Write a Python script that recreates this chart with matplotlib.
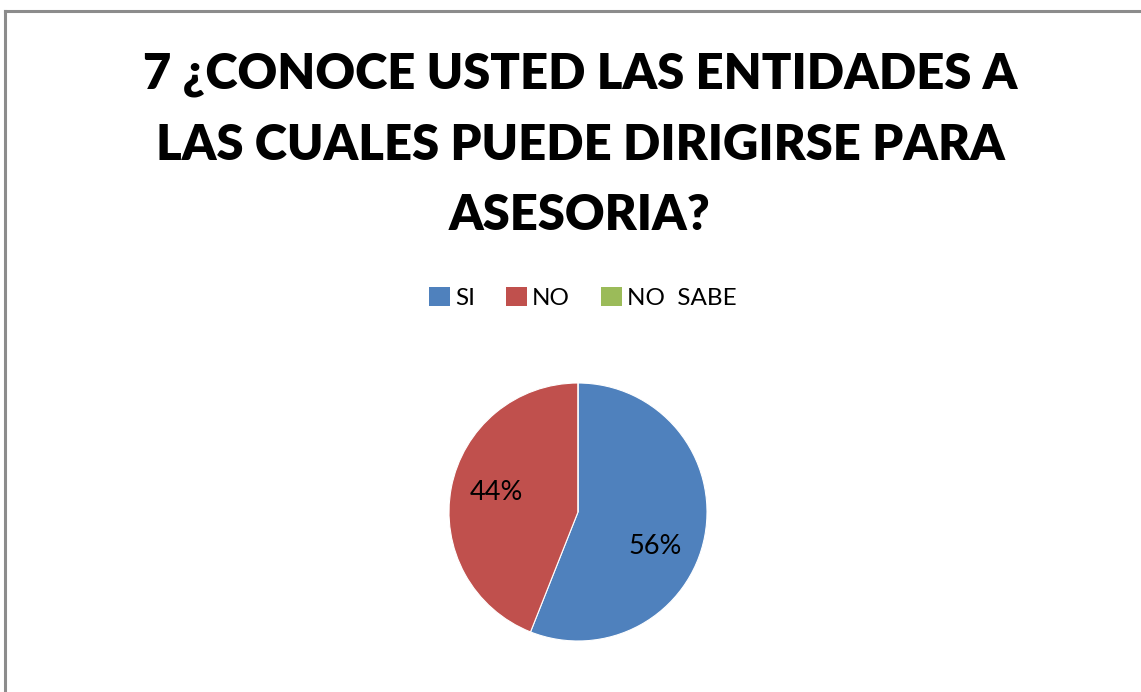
import matplotlib
matplotlib.use("Agg")
import matplotlib.pyplot as plt
from matplotlib.lines import Line2D
from matplotlib.patches import Patch

categories = ["SI", "NO", "NO  SABE"]
values = [56, 44, 0]
colors = ["#4F81BD", "#C0504D", "#9BBB59"]
title = "7 ¿CONOCE USTED LAS ENTIDADES A\nLAS CUALES PUEDE DIRIGIRSE PARA\nASESORIA?"

W, H = 1141, 692
fig = plt.figure(figsize=(W / 100, H / 100), dpi=100)
fig.patch.set_facecolor("white")

# border (gray frame, extends beyond right/bottom)
fig.add_artist(Line2D([5 / W, 5 / W], [0, 1 - 11 / H], transform=fig.transFigure, color="#8c8c8c", lw=2.2))
fig.add_artist(Line2D([5 / W, 1], [1 - 11 / H, 1 - 11 / H], transform=fig.transFigure, color="#8c8c8c", lw=2.2))

font = "Lato"
fig.text(580 / W, 1 - 145 / H, title, ha="center", va="center", fontsize=35.2, fontweight="heavy",
         family=font, linespacing=1.68)

# pie
cx, cy, r = 578, 512, 129
ax = fig.add_axes([(cx - r) / W, (H - cy - r) / H, 2 * r / W, 2 * r / H])
wedges, _ = ax.pie(values, colors=colors, startangle=90, counterclock=False, radius=1,
                   wedgeprops=dict(edgecolor="white", linewidth=0.8))
ax.set_xlim(-1, 1)
ax.set_ylim(-1, 1)
ax.set_aspect("equal")
ax.axis("off")

label_pos = [(0.60, -0.27), (-0.63, 0.15), None]
total = sum(values)
for v, pos in zip(values, label_pos):
    if v > 0 and pos is not None:
        ax.text(pos[0], pos[1], f"{round(100 * v / total)}%", ha="center", va="center",
                fontsize=19.5, family=font)

handles = [Patch(facecolor=c, edgecolor="none") for c in colors]
fig.legend(handles, categories, loc="center", bbox_to_anchor=(583 / W, 1 - 298 / H), ncol=3,
           frameon=False, prop={"family": font, "size": 17.5}, handlelength=0.85, handleheight=0.85,
           handletextpad=0.2, columnspacing=1.3)

fig.savefig("out.png", dpi=100, facecolor="white")
